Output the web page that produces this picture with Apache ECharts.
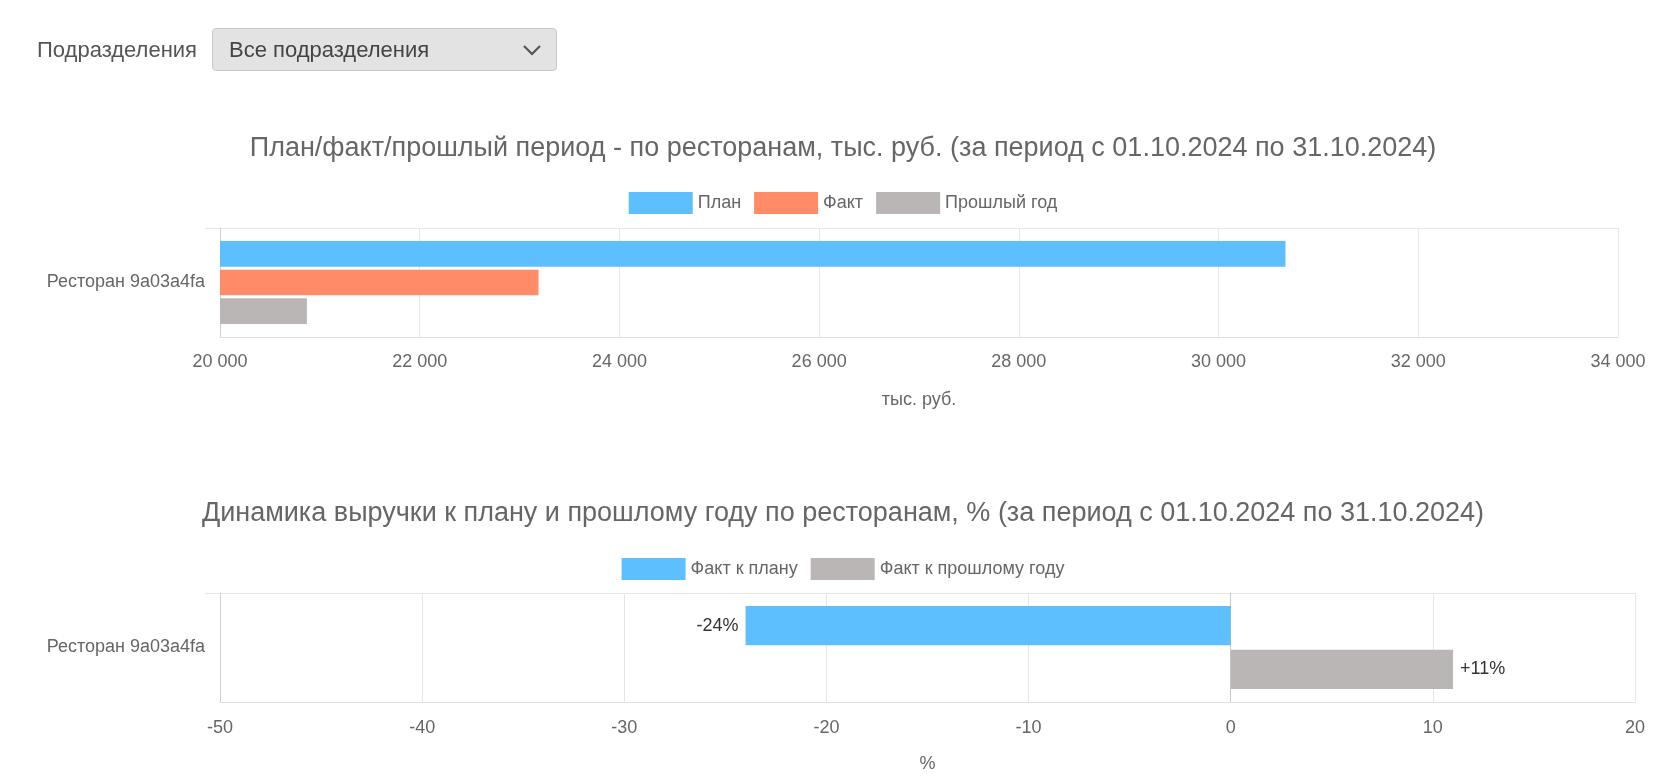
<!DOCTYPE html>
<html>
<head>
<meta charset="utf-8">
<script src="https://cdn.jsdelivr.net/npm/echarts@6/dist/echarts.min.js"></script>
<style>
html,body{margin:0;padding:0;background:#fff;overflow:hidden;width:1669px;height:781px;}
#chart{position:absolute;left:0;top:0;width:1686px;height:781px;}
#filter{position:absolute;left:37px;top:28px;height:43px;display:flex;align-items:center;font-family:'Liberation Sans',Arial,sans-serif;z-index:5;}
#filter .lbl{font-size:22px;color:#555;margin-right:15px;}
#filter .box{width:345px;height:43px;box-sizing:border-box;background:#e3e3e3;border:1px solid #c8c8c8;border-radius:4px;display:flex;align-items:center;justify-content:space-between;padding:0 14px 0 16px;font-size:22px;color:#444;}
</style>
</head>
<body>
<div id="filter"><span class="lbl">Подразделения</span><div class="box"><span>Все подразделения</span><svg width="20" height="12" viewBox="0 0 20 12"><polyline points="2,2 10,10 18,2" fill="none" stroke="#555" stroke-width="2.2"/></svg></div></div>
<div id="chart"></div>
<script>
const categories = ['Ресторан 9a03a4fa'];
const planValues = [30670];
const factValues = [23190];
const lastYearValues = [20870];
const factToPlanPct = [-24];
const factToLastYearPct = [11];
const title1 = 'План/факт/прошлый период - по ресторанам, тыс. руб. (за период с 01.10.2024 по 31.10.2024)';
const title2 = 'Динамика выручки к плану и прошлому году по ресторанам, % (за период с 01.10.2024 по 31.10.2024)';
const seriesNames1 = ['План', 'Факт', 'Прошлый год'];
const seriesNames2 = ['Факт к плану', 'Факт к прошлому году'];

const FONT = "'Liberation Sans', Arial, sans-serif";
const BLUE = '#5DBFFD', ORANGE = '#FF8B69', GREY = '#BAB6B5';
const fmtThousands = v => String(v).replace(/\B(?=(\d{3})+(?!\d))/g, ' ');

const chart = echarts.init(document.getElementById('chart'), null, {renderer: 'canvas'});
const axisLabelStyle = {color: '#666', fontSize: 18, fontFamily: FONT};
const splitLineStyle = {show: true, lineStyle: {color: '#e6e6e6', width: 1}};

function catAxis(gridIndex) {
  return {
    type: 'category', gridIndex, data: categories, inverse: true, position: 'left',
    axisLine: {show: true, onZero: false, lineStyle: {color: '#d0d0d0'}},
    axisTick: {show: false},
    axisLabel: {color: '#666', fontSize: 18, fontFamily: FONT, margin: 15},
    splitLine: splitLineStyle
  };
}
// helper axis: draws only the top boundary tick (extends top grid line to the left)
function topTickAxis(gridIndex) {
  return {
    type: 'category', gridIndex, data: ['', ''], boundaryGap: false, inverse: true, position: 'left',
    axisLine: {show: false, onZero: false},
    axisTick: {show: true, length: 15, lineStyle: {color: '#e6e6e6'}, interval: (i) => i === 0},
    axisLabel: {show: false}, splitLine: {show: false}
  };
}

const barLabel = {
  show: true, fontSize: 18, fontFamily: FONT, color: '#333', distance: 7,
  formatter: p => (p.value > 0 ? '+' : '') + p.value + '%'
};

chart.setOption({
  animation: false,
  textStyle: {fontFamily: FONT},
  title: [
    {text: title1, left: 'center', top: 130, textStyle: {color: '#666', fontSize: 27, fontWeight: 'normal', fontFamily: FONT}},
    {text: title2, left: 'center', top: 495, textStyle: {color: '#666', fontSize: 27, fontWeight: 'normal', fontFamily: FONT}}
  ],
  legend: [
    {data: seriesNames1, left: 'center', top: 187, itemWidth: 64, itemHeight: 22, itemGap: 13, icon: 'rect',
     textStyle: {color: '#666', fontSize: 18, fontFamily: FONT}},
    {data: seriesNames2, left: 'center', top: 553, itemWidth: 64, itemHeight: 22, itemGap: 13, icon: 'rect',
     textStyle: {color: '#666', fontSize: 18, fontFamily: FONT}}
  ],
  grid: [
    {left: 220, right: 68, top: 228, height: 109},
    {left: 220, right: 51, top: 593, height: 109}
  ],
  xAxis: [
    {type: 'value', gridIndex: 0, min: 20000, max: 34000, interval: 2000,
     name: 'тыс. руб.', nameLocation: 'middle', nameGap: 54,
     nameTextStyle: {color: '#666', fontSize: 18, fontFamily: FONT},
     axisLine: {show: true, lineStyle: {color: '#e0e0e0'}}, axisTick: {show: false},
     axisLabel: Object.assign({margin: 16, formatter: v => fmtThousands(v)}, axisLabelStyle),
     splitLine: splitLineStyle},
    {type: 'value', gridIndex: 1, min: -50, max: 20, interval: 10,
     name: '%', nameLocation: 'middle', nameGap: 53,
     nameTextStyle: {color: '#666', fontSize: 18, fontFamily: FONT},
     axisLine: {show: true, lineStyle: {color: '#e0e0e0'}}, axisTick: {show: false},
     axisLabel: Object.assign({margin: 17}, axisLabelStyle),
     splitLine: splitLineStyle}
  ],
  yAxis: [
    catAxis(0),
    catAxis(1),
    {type: 'category', gridIndex: 1, data: categories, inverse: true, position: 'left',
     axisLine: {show: true, onZero: true, lineStyle: {color: '#c8c8c8'}},
     axisTick: {show: false}, axisLabel: {show: false}, splitLine: {show: false}},
    topTickAxis(0),
    topTickAxis(1)
  ],
  series: [
    {name: seriesNames1[0], type: 'bar', xAxisIndex: 0, yAxisIndex: 0, data: planValues,
     itemStyle: {color: BLUE}, barCategoryGap: '24%', barGap: '12%'},
    {name: seriesNames1[1], type: 'bar', xAxisIndex: 0, yAxisIndex: 0, data: factValues,
     itemStyle: {color: ORANGE}, barCategoryGap: '24%', barGap: '12%'},
    {name: seriesNames1[2], type: 'bar', xAxisIndex: 0, yAxisIndex: 0, data: lastYearValues,
     itemStyle: {color: GREY}, barCategoryGap: '24%', barGap: '12%'},
    {name: seriesNames2[0], type: 'bar', xAxisIndex: 1, yAxisIndex: 1, data: factToPlanPct,
     itemStyle: {color: BLUE}, barCategoryGap: '24%', barGap: '12%',
     label: Object.assign({position: 'left'}, barLabel)},
    {name: seriesNames2[1], type: 'bar', xAxisIndex: 1, yAxisIndex: 1, data: factToLastYearPct,
     itemStyle: {color: GREY}, barCategoryGap: '24%', barGap: '12%',
     label: Object.assign({position: 'right'}, barLabel)}
  ]
});
</script>
</body>
</html>
